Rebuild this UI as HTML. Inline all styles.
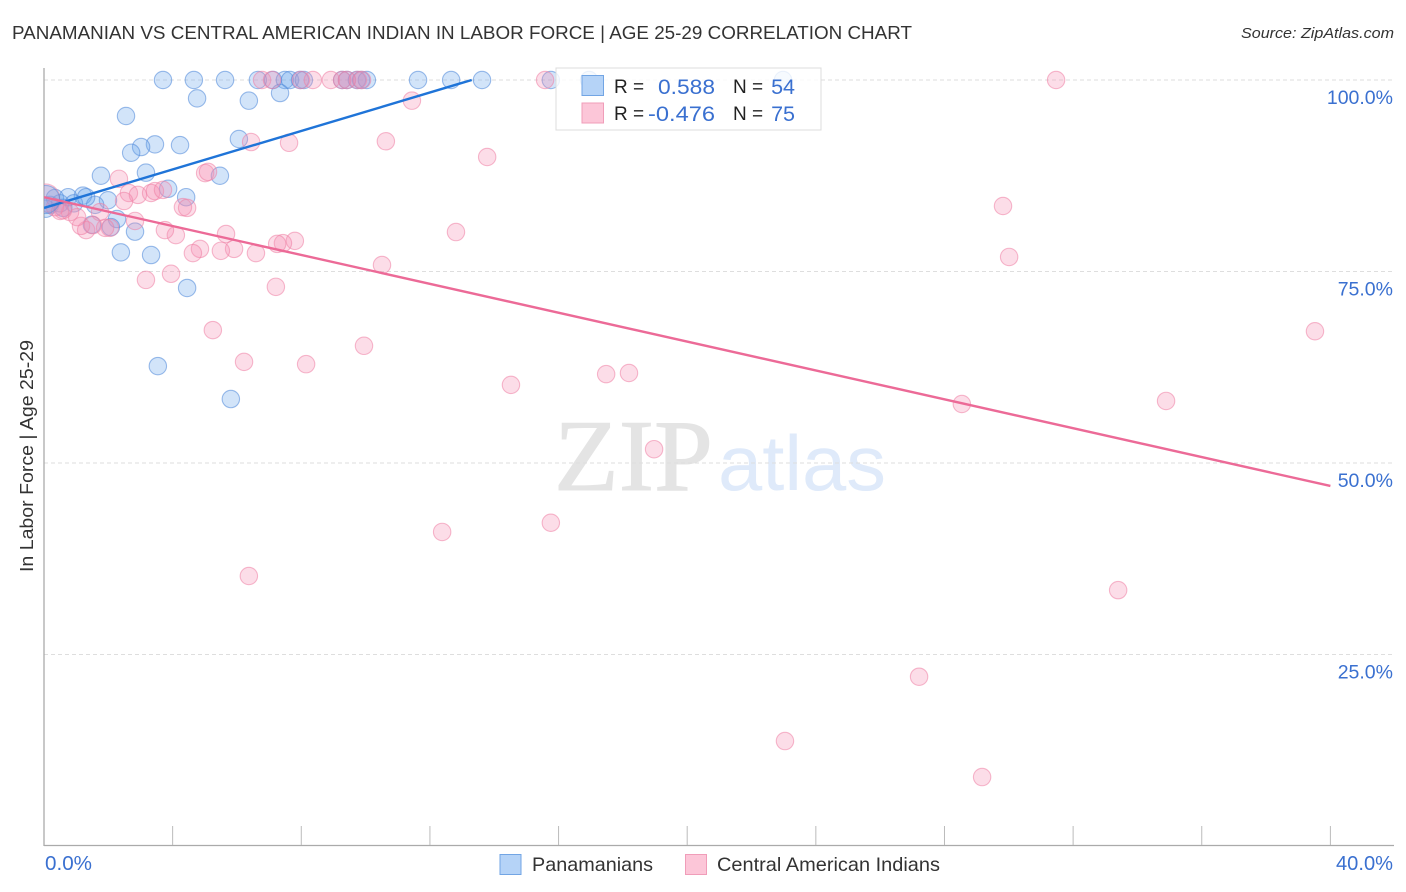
<!DOCTYPE html>
<html lang="en">
<head>
<meta charset="utf-8">
<title>Panamanian vs Central American Indian in Labor Force | Age 25-29 Correlation Chart</title>
<style>
html,body{margin:0;padding:0;background:#fff;}
svg{display:block;font-family:"Liberation Sans",sans-serif;}
</style>
</head>
<body>
<svg id="chart" width="1406" height="892" viewBox="0 0 1406 892" xmlns="http://www.w3.org/2000/svg">
  <defs><clipPath id="plot-clip"><rect x="44" y="60" width="1350" height="786"/></clipPath></defs>
  <text x="12" y="39" font-size="18.5" fill="#333" textLength="900" lengthAdjust="spacingAndGlyphs">PANAMANIAN VS CENTRAL AMERICAN INDIAN IN LABOR FORCE | AGE 25-29 CORRELATION CHART</text>
  <text x="1241" y="38" font-size="15" font-style="italic" fill="#333" textLength="153" lengthAdjust="spacingAndGlyphs">Source: ZipAtlas.com</text>
  <g>
    <text x="554" y="490" font-family="'Liberation Serif',serif" font-size="102" fill="#e4e4e4" stroke="#e4e4e4" stroke-width="1" textLength="159" lengthAdjust="spacingAndGlyphs">ZIP</text>
    <text x="718" y="490" font-family="'Liberation Sans',sans-serif" font-size="78" fill="#dfeafa" textLength="168" lengthAdjust="spacingAndGlyphs">atlas</text>
  </g>
  <g id="grid"></g>
  <g id="axes"></g>
  <g id="marks" clip-path="url(#plot-clip)"></g>
  <g>
    <rect x="556" y="68" width="265" height="62" fill="#fff" fill-opacity="0.8" stroke="#dcdcdc" stroke-width="1"/>
    <rect x="582" y="75.500" width="21.500" height="20" fill="#b5d3f7" stroke="#72a5e4" stroke-width="1"/>
    <rect x="582" y="103" width="21.500" height="20" fill="#fcc6d8" stroke="#f09db9" stroke-width="1"/>
    <text x="614" y="93" font-size="19" fill="#222">R =</text>
    <text x="658" y="94" font-size="21.500" fill="#3a70d0" textLength="57" lengthAdjust="spacingAndGlyphs">0.588</text>
    <text x="733" y="93" font-size="19" fill="#222">N =</text>
    <text x="795" y="94" font-size="21.500" fill="#3a70d0" text-anchor="end">54</text>
    <text x="614" y="120" font-size="19" fill="#222">R =</text>
    <text x="648" y="121" font-size="21.500" fill="#3a70d0" textLength="67" lengthAdjust="spacingAndGlyphs">-0.476</text>
    <text x="733" y="120" font-size="19" fill="#222">N =</text>
    <text x="795" y="121" font-size="21.500" fill="#3a70d0" text-anchor="end">75</text>
  </g>
  <text transform="translate(33,456) rotate(-90)" font-size="18.500" fill="#333" text-anchor="middle" textLength="232" lengthAdjust="spacingAndGlyphs">In Labor Force | Age 25-29</text>
  <text x="45" y="870" font-size="20" fill="#3a70d0" textLength="47" lengthAdjust="spacingAndGlyphs">0.0%</text>
  <text x="1336" y="870" font-size="20" fill="#3a70d0" textLength="57" lengthAdjust="spacingAndGlyphs">40.0%</text>
  <g>
    <rect x="500" y="854.500" width="21" height="20" fill="#b5d3f7" stroke="#72a5e4" stroke-width="1"/>
    <text x="532" y="871" font-size="19.500" fill="#333" textLength="121" lengthAdjust="spacingAndGlyphs">Panamanians</text>
    <rect x="685.500" y="854.500" width="21" height="20" fill="#fcc6d8" stroke="#f09db9" stroke-width="1"/>
    <text x="717" y="871" font-size="19.500" fill="#333" textLength="223" lengthAdjust="spacingAndGlyphs">Central American Indians</text>
  </g>
</svg>
<script>
const yTicks = [100, 75, 50, 25];
const yTickLabels = ["100.0%", "75.0%", "50.0%", "25.0%"];
const xTicks = [4, 8, 12, 16, 20, 24, 28, 32, 36, 40];

const panamanianX = [3.70,4.66,5.63,6.65,7.12,7.49,7.65,7.96,8.08,9.27,9.42,9.73,9.86,10.04,11.63,12.66,13.62,15.76,16.95,22.98,
  4.76,6.37,7.34,2.55,3.45,3.02,2.71,4.23,6.06,3.17,1.77,5.47,3.86,4.42,1.21,1.99,2.27,2.83,2.08,2.39,3.33,4.45,3.54,5.81,1.49,1.59,
  0.19,0.34,0.50,0.75,0.93,1.31,0.06,0.60];
const panamanianY = [100,100,100,100,100,100,100,100,100,100,100,100,100,100,100,100,100,100,100,100,
  97.6,97.3,98.3,95.3,91.6,91.25,90.5,91.5,92.3,87.9,87.5,87.5,85.8,84.7,84.9,84.3,81.85,80.2,80.8,77.5,77.15,72.85,62.65,58.35,81.1,83.7,
  83.7,84.6,83.9,84.7,83.9,84.7,83.2,83.3];

const centralAmericanX = [6.78,7.09,7.99,8.36,8.92,9.27,9.42,9.76,9.89,15.58,31.47,
  6.44,7.62,10.63,11.44,13.78,29.82,30.01,39.52,34.89,28.54,18.97,33.40,27.21,23.04,29.17,15.76,12.38,6.37,14.52,17.48,18.19,9.95,8.15,6.22,5.25,7.21,3.95,3.17,10.51,12.81,
  7.80,7.43,7.25,6.59,5.91,5.50,5.66,4.85,4.63,4.10,3.76,2.83,4.32,4.45,5.01,5.10,2.33,2.64,2.92,3.33,3.45,3.70,2.49,1.74,2.05,1.90,1.31,1.15,1.52,1.03,0.81,0.59,0.34,0.50];
const centralAmericanY = [100,100,100,100,100,100,100,100,100,100,100,
  91.9,91.8,92.0,97.3,89.95,83.55,76.9,67.2,58.1,57.7,51.8,33.4,22.1,13.7,9.0,42.2,41.0,35.25,60.2,61.6,61.75,65.3,62.9,63.2,67.35,73.0,74.7,73.9,75.85,80.15,
  79.0,78.7,78.6,77.4,77.95,77.7,79.9,77.95,77.4,79.75,80.4,81.6,83.4,83.3,87.85,88.0,87.1,85.25,85.0,85.25,85.5,85.65,84.2,82.75,80.7,80.7,80.4,80.95,81.05,82.1,82.75,83.0,83.4,82.9];

const clusterX = [0.05, 0.05];
const clusterY = [84.6, 84.4];
const clusterCount = [2.6, 2.6];

const panamanianTrendX = [0, 12.9, 13.3];
const panamanianTrendY = [83.3, 99.5, 100];
const centralAmericanTrendX = [0, 40];
const centralAmericanTrendY = [84.7, 47];

const NS = "http://www.w3.org/2000/svg";
const xScale = v => 44 + v * 32.16;
const yScale = v => 80 + (100 - v) * 7.66;
const radius = n => 8.7 * Math.sqrt(n);

function make(tag, attrs, parent) {
  const el = document.createElementNS(NS, tag);
  for (const k in attrs) el.setAttribute(k, attrs[k]);
  parent.appendChild(el);
  return el;
}

const grid = document.getElementById("grid");
const axes = document.getElementById("axes");
const marks = document.getElementById("marks");

yTicks.forEach((t, i) => {
  const line = make("line", {x1: 44, x2: 1394, y1: yScale(t), y2: yScale(t), stroke: "#dedede", "stroke-width": 1, "stroke-dasharray": "4 3"}, grid);
  
  
  const label = make("text", {x: 1393, y: yScale(t) + 24, "font-size": 19.5, fill: "#3a70d0", "text-anchor": "end"}, axes);
  label.textContent = yTickLabels[i];
  
  
});

const yAxisLine = make("line", {x1: 44, x2: 44, y1: 68, y2: 846, stroke: "#aaa", "stroke-width": 1.3}, axes);


const xAxisLine = make("line", {x1: 44, x2: 1394, y1: 845.5, y2: 845.5, stroke: "#aaa", "stroke-width": 1.3}, axes);



xTicks.forEach(t => {
  const tick = make("line", {x1: xScale(t), x2: xScale(t), y1: 826, y2: 845, stroke: "#bbb", "stroke-width": 1}, axes);
  
  
});

function drawPoints(xs, ys, fill, stroke, name) {
  xs.forEach((x, i) => {
    const c = make("circle", {cx: xScale(x), cy: yScale(ys[i]), r: radius(1), fill: fill, "fill-opacity": 0.3, stroke: stroke, "stroke-opacity": 0.55, "stroke-width": 1.1}, marks);
    
    
  });
}
function drawTrend(xs, ys, color, name) {
  const pts = xs.map((x, i) => xScale(x) + "," + yScale(ys[i])).join(" ");
  const l = make("polyline", {points: pts, fill: "none", stroke: color, "stroke-width": 2.4}, marks);
  
  
}

drawPoints(panamanianX, panamanianY, "#6aa5ea", "#4c86d8", "point-panamanian");
drawPoints(centralAmericanX, centralAmericanY, "#f58fb2", "#ee7fa4", "point-central-american-indian");

clusterX.forEach((x, i) => {
  const c = make("circle", {cx: xScale(x), cy: yScale(clusterY[i]), r: radius(clusterCount[i]), fill: i ? "#6aa5ea" : "#f58fb2", "fill-opacity": 0.3, stroke: i ? "#4c86d8" : "#ee7fa4", "stroke-opacity": 0.5, "stroke-width": 1.1}, marks);
  
  
});

drawTrend(panamanianTrendX, panamanianTrendY, "#1f74d8", "trend-line-panamanians");
drawTrend(centralAmericanTrendX, centralAmericanTrendY, "#ec6a97", "trend-line-central-american-indians");
</script>
</body>
</html>
